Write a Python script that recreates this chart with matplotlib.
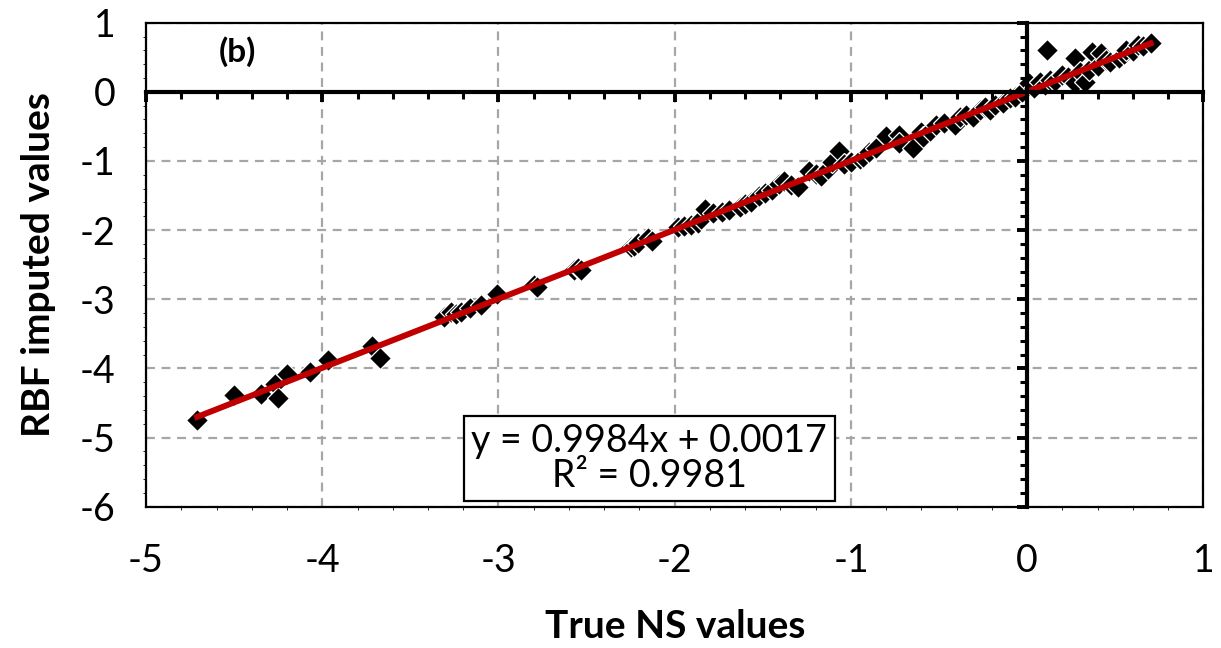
import numpy as np
import matplotlib.pyplot as plt
from matplotlib.ticker import MultipleLocator

plt.rcParams['font.family'] = ['Lato', 'DejaVu Sans']
plt.rcParams['axes.unicode_minus'] = False

# values
true_ns = [-4.71, -4.50, -4.35, -4.27, -4.25, -4.20, -4.07, -3.97, -3.72, -3.67,
           -3.31, -3.27, -3.24, -3.21, -3.16, -3.10, -3.01, -2.80, -2.78, -2.57,
           -2.55, -2.53, -2.25, -2.23, -2.21, -2.15, -2.13, -1.98, -1.95, -1.91,
           -1.87, -1.85, -1.83, -1.78, -1.73, -1.69, -1.63, -1.60, -1.57, -1.52,
           -1.49, -1.45, -1.41, -1.38, -1.34, -1.30, -1.24, -1.20, -1.17, -1.13,
           -1.11, -1.07, -1.04, -1.00, -0.95, -0.93, -0.90, -0.86, -0.80, -0.73,
           -0.73, -0.65, -0.60, -0.59, -0.55, -0.52, -0.47, -0.41, -0.38, -0.35,
           -0.31, -0.27, -0.24, -0.21, -0.18, -0.14, -0.10, -0.07, -0.03, 0.01,
           0.04, 0.07, 0.10, 0.11, 0.13, 0.16, 0.20, 0.23, 0.27, 0.27,
           0.30, 0.33, 0.35, 0.37, 0.40, 0.42, 0.45, 0.47, 0.52, 0.55,
           0.56, 0.60, 0.63, 0.66, 0.70]
rbf_imputed = [-4.74, -4.38, -4.37, -4.23, -4.43, -4.08, -4.05, -3.88, -3.68, -3.85,
               -3.25, -3.19, -3.21, -3.19, -3.13, -3.08, -2.92, -2.79, -2.82, -2.58,
               -2.55, -2.57, -2.24, -2.23, -2.19, -2.11, -2.16, -1.96, -1.94, -1.93,
               -1.89, -1.84, -1.70, -1.75, -1.74, -1.71, -1.66, -1.62, -1.59, -1.51,
               -1.46, -1.42, -1.33, -1.29, -1.35, -1.38, -1.14, -1.19, -1.22, -1.12,
               -1.02, -0.85, -1.05, -1.01, -0.97, -0.94, -0.87, -0.81, -0.64, -0.62,
               -0.74, -0.81, -0.58, -0.65, -0.56, -0.48, -0.45, -0.48, -0.37, -0.33,
               -0.36, -0.26, -0.22, -0.26, -0.19, -0.16, -0.09, -0.07, 0.00, 0.13,
               0.05, 0.14, 0.10, 0.61, 0.17, 0.15, 0.25, 0.22, 0.49, 0.13,
               0.28, 0.14, 0.32, 0.58, 0.38, 0.56, 0.46, 0.43, 0.49, 0.54,
               0.61, 0.59, 0.68, 0.66, 0.70]
slope, intercept = 0.9984, 0.0017
r2 = 0.9981

fig = plt.figure(figsize=(12.21, 6.48), dpi=100)
pos = [0.1196, 0.218, 0.866, 0.747]
ax = fig.add_axes(pos)

ax.set_xlim(-5, 1)
ax.set_ylim(-6, 1)
ax.set_xticks(range(-5, 2))
ax.set_yticks(range(-6, 2))
ax.grid(True, color='#A6A6A6', linestyle=(0, (4, 3)), linewidth=1.6)
ax.tick_params(length=0, labelsize=27)
ax.tick_params(axis='x', pad=26)
ax.tick_params(axis='y', pad=22)
for s in ax.spines.values():
    s.set_linewidth(1.6)

ax.plot(true_ns, rbf_imputed, linestyle='none', marker='D', markersize=11,
        markerfacecolor='black', markeredgecolor='white', markeredgewidth=0.9, zorder=3)

xfit = np.array([min(true_ns), max(true_ns)])
ax.plot(xfit, slope * xfit + intercept, color='#C00000', linewidth=4.3, zorder=4)

ax.set_xlabel('True NS values', fontsize=28, fontweight='bold', labelpad=22)
ax.set_ylabel('RBF imputed values', fontsize=28, fontweight='bold', labelpad=17)

ax.text(0.086, 0.94, '(b)', transform=ax.transAxes, fontsize=24,
        fontweight='bold', ha='center', va='center')
ax.text(0.476, 0.10, f'y = {slope}x + {intercept}\nR² = {r2}',
        transform=ax.transAxes, fontsize=27, ha='center', va='center',
        linespacing=0.95, zorder=5,
        bbox=dict(boxstyle='square,pad=0.2', facecolor='white',
                  edgecolor='black', linewidth=1.6))

# Excel-style axes crossing at zero
ax2 = fig.add_axes(pos, sharex=ax, sharey=ax)
ax2.patch.set_visible(False)
ax2.spines['top'].set_visible(False)
ax2.spines['right'].set_visible(False)
ax2.spines['left'].set_position(('data', 0))
ax2.spines['bottom'].set_position(('data', 0))
ax2.spines['left'].set_linewidth(3)
ax2.spines['bottom'].set_linewidth(3)
ax2.xaxis.set_minor_locator(MultipleLocator(0.2))
ax2.yaxis.set_minor_locator(MultipleLocator(0.2))
ax2.tick_params(which='major', direction='out', length=7, width=2.8,
                labelbottom=False, labelleft=False)
ax2.tick_params(which='minor', direction='out', length=5, width=2.2)
ax2.set_zorder(2)

fig.savefig('out.png', dpi=100)
